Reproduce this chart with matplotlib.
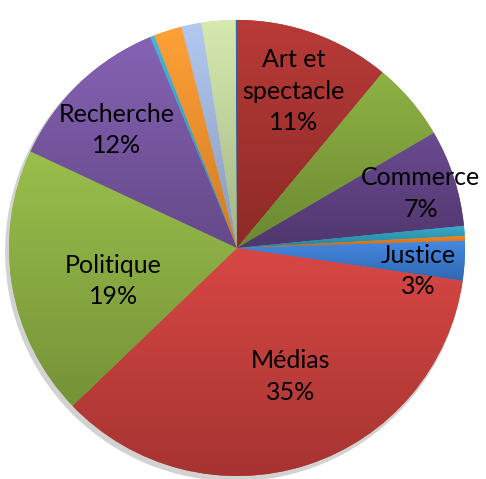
import numpy as np
import matplotlib
matplotlib.use('Agg')
import matplotlib.pyplot as plt
import matplotlib.colors as mcolors
from matplotlib.patches import Circle

# slices clockwise from 12 o'clock (percent of total)
categories = ['Art et\nspectacle', '', 'Commerce', '', '', 'Justice', 'Médias',
              'Politique', 'Recherche', '', '', '', '', '']
values = [11.0, 5.55, 6.85, 0.7, 0.35, 2.8, 35.45, 19.1, 11.8, 0.3, 2.0, 1.4, 2.4, 0.1]
colors = ['#A8322F', '#80A23B', '#5F4183', '#2F9CB8', '#E07B1F', '#3B7BD0', '#C53E3B',
          '#8BAE42', '#7857A3', '#3AA6C8', '#F7922E', '#A2B7DD', '#C3D69F', '#2F5C9E']

# label placement: radial distance and small angular nudge (deg, clockwise)
label_dist = {0: 0.73, 2: 0.84, 5: 0.80, 6: 0.61, 7: 0.56, 8: 0.74}
label_shift = {0: 0.0, 2: 1.5, 5: 4.0, 6: -5.0, 7: -5.5, 8: -2.0}

fig = plt.figure(figsize=(4.86, 4.79), dpi=100)
ax = fig.add_axes([0, 0, 1, 1])

# soft shadow under the pie
ax.add_patch(Circle((-0.010, -0.016), 1.004, color='#d2d2d2', zorder=0))

wedges, _ = ax.pie(values, colors=colors, startangle=90, counterclock=False,
                   radius=1.0, wedgeprops=dict(linewidth=0))

# vertical gradient inside each slice, lighter on top
t = np.linspace(0, 1, 96)[:, None, None]
for w, c in zip(wedges, colors):
    rgb = np.array(mcolors.to_rgb(c))
    top = np.clip(rgb * 1.07 + 0.02, 0, 1)
    bot = rgb * 0.84
    img = top * (1 - t) + bot * t
    bb = w.get_path().get_extents()
    im = ax.imshow(img, extent=[bb.x0, bb.x1, bb.y0, bb.y1], origin='upper',
                   aspect='auto', interpolation='bilinear', zorder=w.get_zorder())
    im.set_clip_path(w)

for i, name in enumerate(categories):
    if not name:
        continue
    w = wedges[i]
    mid = (w.theta1 + w.theta2) / 2 - label_shift[i]
    r = label_dist[i]
    x, y = r * np.cos(np.radians(mid)), r * np.sin(np.radians(mid))
    ax.text(x, y, f'{name}\n{round(values[i])}%', ha='center', va='center',
            fontsize=18, family='Lato', color='black', linespacing=1.45, zorder=5)

ax.set_xlim(-1.0395, 1.092)
ax.set_ylim(-1.0132, 1.0877)
ax.set_aspect('equal')
ax.axis('off')

fig.savefig('out.png', dpi=100)
